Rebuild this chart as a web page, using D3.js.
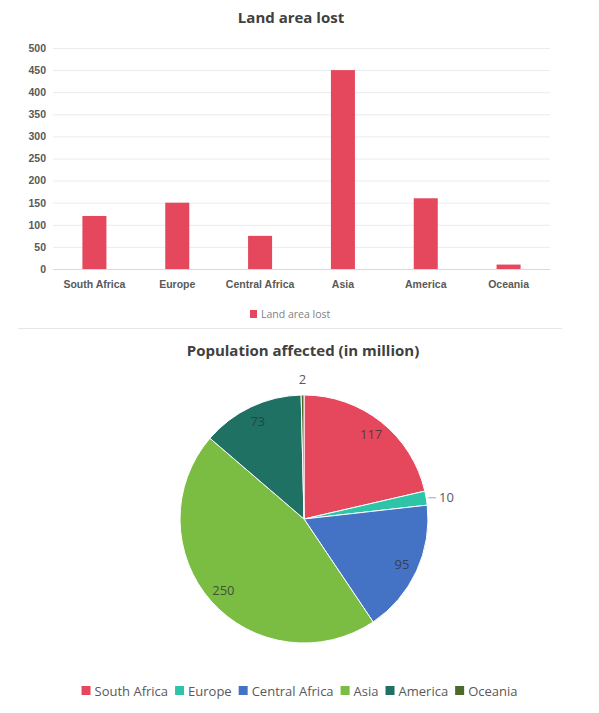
<!DOCTYPE html>
<html>
<head>
<meta charset="utf-8">
<script src="https://cdn.jsdelivr.net/npm/d3@7"></script>
<style>
  body { margin: 0; background: #fff; }
  svg { font-family: "Open Sans", sans-serif; }
  .tick text { fill: #595959; font-weight: bold; font-size: 10.5px; }
</style>
</head>
<body>
<div id="chart"></div>
<script>
// Land area lost (bar)
var regions = ["South Africa", "Europe", "Central Africa", "Asia", "America", "Oceania"];
var landLost = [120, 150, 75, 450, 160, 10];
var yTicks = [0, 50, 100, 150, 200, 250, 300, 350, 400, 450, 500];

// Population affected (pie)
var population = [117, 10, 95, 250, 73, 2];
var pieColors = ["#e5485d", "#2ec4a7", "#4472c4", "#7abd42", "#1e7163", "#4b6a2b"];

var W = 599, H = 713;
var svg = d3.select("#chart").append("svg")
    .attr("width", W)
    .attr("height", H);

////// Bar chart

var x = d3.scaleBand().domain(regions).range([53, 550]).paddingInner(0.71).paddingOuter(0.355);
var y = d3.scaleLinear().domain([0, 500]).range([269, 48]);

svg.append("text")
    .attr("x", 291).attr("y", 23)
    .attr("text-anchor", "middle")
    .style("font-size", "15px").style("font-weight", "bold").style("fill", "#404040")
    .text("Land area lost");

var grid = svg.append("g");
grid.selectAll("line").data(yTicks).enter().append("line")
    .attr("x1", 53).attr("x2", 550)
    .attr("y1", function(d) { return y(d) + 0.5; })
    .attr("y2", function(d) { return y(d) + 0.5; })
    .style("stroke", function(d) { return d == 0 ? "#d9d9d9" : "#ececec"; });

var yAxis = svg.append("g")
    .attr("transform", "translate(53,0)")
    .call(d3.axisLeft(y).tickValues(yTicks).tickSize(0).tickPadding(7));
yAxis.select(".domain").remove();

var xAxis = svg.append("g")
    .attr("transform", "translate(0,269)")
    .call(d3.axisBottom(x).tickSize(0).tickPadding(12));
xAxis.select(".domain").remove();

svg.selectAll("rect.bar").data(landLost).enter().append("rect")
    .attr("class", "bar")
    .attr("x", function(d, i) { return x(regions[i]); })
    .attr("width", x.bandwidth())
    .attr("y", function(d) { return y(d); })
    .attr("height", function(d) { return y(0) - y(d); })
    .style("fill", "#e5485d");

var barLegend = svg.append("g").attr("transform", "translate(250,314)");
barLegend.append("rect").attr("x", 0).attr("y", -4).attr("width", 7).attr("height", 8).style("fill", "#e5485d");
barLegend.append("text").attr("x", 11).attr("y", 0).attr("dy", "0.35em")
    .style("font-size", "10.5px").style("fill", "#7f7f7f").text("Land area lost");

svg.append("line")
    .attr("x1", 18).attr("x2", 562).attr("y1", 328.5).attr("y2", 328.5)
    .style("stroke", "#e6e6e6");

////// Pie chart

svg.append("text")
    .attr("x", 303).attr("y", 356)
    .attr("text-anchor", "middle")
    .style("font-size", "15px").style("font-weight", "bold").style("fill", "#404040")
    .text("Population affected (in million)");

var cx = 304, cy = 519, r = 124;
var pie = d3.pie().sort(null).value(function(d) { return d; });
var arcs = pie(population);
var arc = d3.arc().innerRadius(0).outerRadius(r);
var labelArc = d3.arc().innerRadius(r * 0.87).outerRadius(r * 0.87);

var pieG = svg.append("g").attr("transform", "translate(" + cx + "," + cy + ")");

pieG.selectAll("path").data(arcs).enter().append("path")
    .attr("d", arc)
    .style("fill", function(d, i) { return pieColors[i]; })
    .style("stroke", "#fff")
    .style("stroke-width", 1);

// inside labels for big slices, outside for tiny ones
pieG.selectAll("text.inLabel").data(arcs.filter(function(d) { return d.value > 20; })).enter()
    .append("text")
    .attr("class", "inLabel")
    .attr("transform", function(d) { return "translate(" + labelArc.centroid(d) + ")"; })
    .attr("text-anchor", "middle").attr("dy", "0.35em")
    .style("font-size", "13px").style("fill", "#333").style("fill-opacity", 0.8)
    .text(function(d) { return d.value; });

var small = arcs.filter(function(d) { return d.value <= 20; });
small.forEach(function(d) {
  var a = (d.startAngle + d.endAngle) / 2;
  var sx = Math.sin(a), sy = -Math.cos(a);
  if (d.value >= 5) {
    pieG.append("line")
        .attr("x1", sx * (r + 2)).attr("y1", sy * (r + 2))
        .attr("x2", sx * (r + 10)).attr("y2", sy * (r + 2))
        .style("stroke", "#a6a6a6");
    pieG.append("text")
        .attr("x", sx * (r + 13)).attr("y", sy * (r + 2))
        .attr("dy", "0.35em")
        .style("font-size", "13px").style("fill", "#595959")
        .text(d.value);
  } else {
    pieG.append("text")
        .attr("x", sx * (r + 16)).attr("y", sy * (r + 16))
        .attr("text-anchor", "middle").attr("dy", "0.35em")
        .style("font-size", "13px").style("fill", "#595959")
        .text(d.value);
  }
});

// pie legend
var legend = svg.append("g").attr("transform", "translate(0,691)");
var item = legend.selectAll("g").data(regions).enter().append("g");
item.append("rect").attr("x", 0).attr("y", -5).attr("width", 9).attr("height", 9)
    .style("fill", function(d, i) { return pieColors[i]; });
item.append("text").attr("x", 13).attr("dy", "0.35em")
    .style("font-size", "13px").style("fill", "#595959")
    .text(function(d) { return d; });

var widths = [];
item.each(function() { widths.push(this.getBBox().width); });
var gap = 7;
var total = d3.sum(widths) + gap * (widths.length - 1);
var pos = (W - total) / 2;
item.attr("transform", function(d, i) {
  var p = pos;
  pos += widths[i] + gap;
  return "translate(" + p + ",0)";
});
</script>
</body>
</html>
